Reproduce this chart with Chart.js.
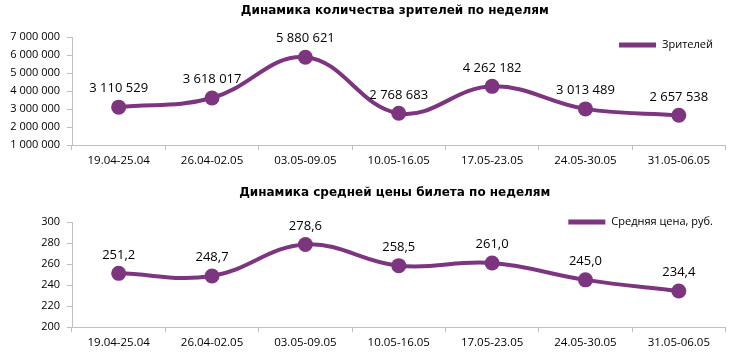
<!DOCTYPE html>
<html lang="ru">
  <head>
    <meta charset="UTF-8" />
    <title>Динамика по неделям</title>
    <script src="https://cdn.jsdelivr.net/npm/chart.js@4.4.0/dist/chart.umd.min.js"></script>
    <style>
      body { margin: 0; background: #fff; }
      .box { position: absolute; left: 0; width: 733px; }
    </style>
  </head>
  <body>
    <div class="box" style="top:0;height:180px"><canvas id="viewers"></canvas></div>
    <div class="box" style="top:180px;height:184px"><canvas id="price"></canvas></div>
    <script>
      var weeks = ['19.04-25.04', '26.04-02.05', '03.05-09.05', '10.05-16.05', '17.05-23.05', '24.05-30.05', '31.05-06.05'];
      var viewers = [3110529, 3618017, 5880621, 2768683, 4262182, 3013489, 2657538];
      var avgPrice = [251.2, 248.7, 278.6, 258.5, 261.0, 245.0, 234.4];

      var purple = '#7d3580';
      var font = '"Open Sans", "Liberation Sans", sans-serif';

      function spaced(n) {
        return String(Math.round(n)).replace(/\B(?=(\d{3})+(?!\d))/g, ' ');
      }
      function comma(n) {
        return n.toFixed(1).replace('.', ',');
      }

      // title, legend and value labels drawn by hand
      var decor = {
        id: 'decor',
        afterDatasetsDraw(chart, args, opts) {
          var ctx = chart.ctx, area = chart.chartArea;
          ctx.save();
          ctx.fillStyle = '#000';
          ctx.font = 'bold 12px "DejaVu Sans", sans-serif';
          ctx.textAlign = 'center';
          ctx.textBaseline = 'middle';
          ctx.fillText(opts.title, (area.left + area.right) / 2 - 4, opts.titleY);

          var ds = chart.data.datasets[0];
          ctx.font = '11px ' + font;
          ctx.textAlign = 'left';
          var tw = ctx.measureText(ds.label).width;
          var tx = opts.legendRight - tw;
          ctx.strokeStyle = purple;
          ctx.lineWidth = 5;
          ctx.beginPath();
          ctx.moveTo(tx - 43, opts.legendY);
          ctx.lineTo(tx - 6, opts.legendY);
          ctx.stroke();
          ctx.fillStyle = '#000';
          ctx.fillText(ds.label, tx, opts.legendY);

          ctx.font = '13px ' + font;
          ctx.textAlign = 'center';
          ctx.textBaseline = 'bottom';
          chart.getDatasetMeta(0).data.forEach(function (pt, i) {
            ctx.fillText(opts.fmt(ds.data[i]), pt.x, pt.y - 12);
          });
          ctx.restore();
        }
      };

      function makeChart(id, label, values, yMin, yMax, step, fmt, title, titleY, legendY, topPad, bottomPad) {
        return new Chart(document.getElementById(id), {
          type: 'line',
          data: {
            labels: weeks,
            datasets: [{
              label: label,
              data: values,
              borderColor: purple,
              backgroundColor: purple,
              borderWidth: 4,
              tension: 0.4,
              pointRadius: 7.5,
              pointHoverRadius: 7.5,
              pointBackgroundColor: purple,
              pointBorderWidth: 0
            }]
          },
          options: {
            responsive: true,
            maintainAspectRatio: false,
            animation: false,
            layout: { padding: { top: topPad, right: 7, left: 0, bottom: bottomPad } },
            plugins: {
              legend: { display: false },
              tooltip: { enabled: false },
              decor: { title: title, titleY: titleY, legendY: legendY, legendRight: 713, fmt: fmt }
            },
            scales: {
              x: {
                offset: true,
                grid: { offset: true, drawOnChartArea: false, tickLength: 5, color: '#bfbfbf' },
                border: { color: '#bfbfbf' },
                ticks: { color: '#000', font: { family: font, size: 11.5 }, maxRotation: 0, padding: 4 }
              },
              y: {
                min: yMin,
                max: yMax,
                afterFit: function (s) { s.width = 72; },
                grid: { drawOnChartArea: false, tickLength: 5, color: '#bfbfbf' },
                border: { color: '#bfbfbf' },
                ticks: {
                  stepSize: step,
                  color: '#000',
                  font: { family: font, size: 11 },
                  padding: 7,
                  callback: function (v) { return spaced(v); }
                }
              }
            }
          },
          plugins: [decor]
        });
      }

      makeChart('viewers', 'Зрителей', viewers, 1000000, 7000000, 1000000, spaced,
        'Динамика количества зрителей по неделям', 11, 45, 37, 8);
      makeChart('price', 'Средняя цена, руб.', avgPrice, 200, 300, 20, comma,
        'Динамика средней цены билета по неделям', 13, 42, 42, 10);
    </script>
  </body>
</html>
